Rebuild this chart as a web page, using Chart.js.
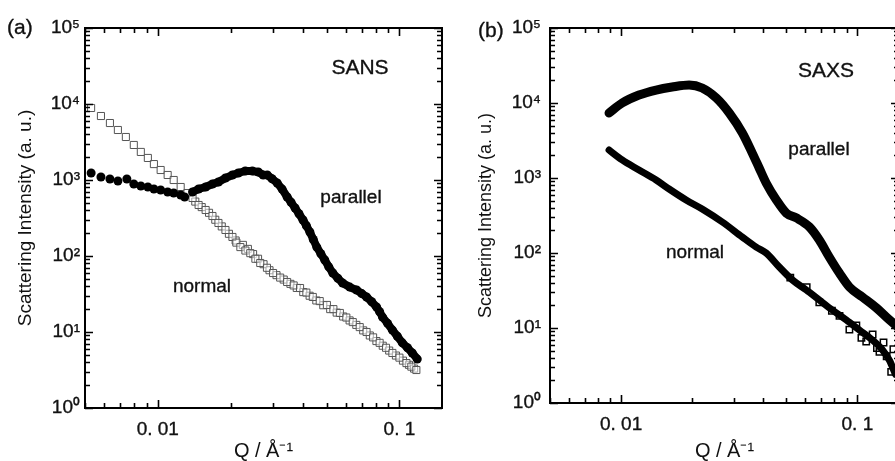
<!DOCTYPE html>
<html>
<head>
<meta charset="utf-8">
<script src="https://cdn.jsdelivr.net/npm/chart.js@4"></script>
<style>
  html, body { margin: 0; padding: 0; background: #fff; overflow: hidden; }
  #wrap { position: relative; width: 895px; height: 461px; overflow: hidden; }
  #chartA { position: absolute; left: 0; top: 0; }
  #chartB { position: absolute; left: 450px; top: 0; }
</style>
</head>
<body>
<div id="wrap">
  <canvas id="chartA" width="450" height="461"></canvas>
  <canvas id="chartB" width="460" height="461"></canvas>
</div>
<script>
// Panel (a) SANS - parallel (filled circles)
const sansParQ = [0.0053, 0.00582, 0.00634, 0.00684, 0.00745, 0.00796, 0.00851, 0.0091, 0.00964, 0.01028,
  0.01099, 0.01164, 0.01244, 0.01292, 0.01393, 0.01476, 0.01578, 0.01684, 0.01783, 0.01906,
  0.02037, 0.02155, 0.02303, 0.02462, 0.02606, 0.02731, 0.02838, 0.0297, 0.0312, 0.0327,
  0.0343, 0.0356, 0.037, 0.0384, 0.0399, 0.0412, 0.0426, 0.044, 0.0455, 0.0473,
  0.0491, 0.051, 0.053, 0.0556, 0.0582, 0.0623, 0.0665, 0.0698, 0.0731, 0.0768,
  0.0804, 0.0828, 0.0851, 0.0893, 0.0935, 0.098, 0.1028, 0.108, 0.113, 0.1185];
const sansParI = [1236, 1094, 1030, 970, 1030, 886, 834, 809, 762, 738,
  695, 674, 635, 598, 695, 762, 809, 886, 941, 1062,
  1164, 1236, 1314, 1314, 1274, 1164, 1164, 1040, 914, 760,
  598, 510, 428, 360, 298, 250, 207, 165, 131, 107,
  88.5, 72, 59.7, 51, 44.1, 39, 35.7, 32, 28.9, 25,
  21.3, 18.5, 15.7, 13, 10.6, 8.8, 7.2, 6.2, 5.3, 4.4];

// Panel (a) SANS - normal (open squares), two overlapping runs
const sansNorQ = [0.0053, 0.00582, 0.00634, 0.00684, 0.00738, 0.00796, 0.00851, 0.0091, 0.00964, 0.01028,
  0.01099, 0.01164, 0.01244, 0.01327, 0.01393, 0.01476, 0.01578, 0.01684, 0.01783, 0.01906,
  0.02037, 0.02115, 0.02197, 0.02305, 0.02415, 0.02535, 0.02655, 0.0283, 0.03, 0.0321,
  0.0343, 0.0365, 0.0388, 0.0412, 0.0438, 0.0468, 0.0501, 0.0533, 0.0567, 0.0603,
  0.0641, 0.0685, 0.0731, 0.0778, 0.0828, 0.088, 0.0935, 0.1, 0.1069, 0.112, 0.1175];
const sansNorI = [8860, 6950, 5620, 4550, 3680, 2890, 2340, 1950, 1620, 1354,
  1164, 1000, 809, 674, 580, 469, 403, 336, 272, 220,
  178, 150, 131, 118, 109, 92, 80.9, 70, 59.7, 52,
  45.5, 41, 37.9, 33, 28.9, 25.5, 22.7, 20, 17.8, 15.5,
  13.5, 11.6, 10, 8.5, 7.2, 6.2, 5.3, 4.6, 3.9, 3.5, 3.16];
const sansNor2Q = [0.0143, 0.0152, 0.0163, 0.0173, 0.0184, 0.0197, 0.021, 0.0225, 0.0236, 0.0248,
  0.026, 0.0274, 0.029, 0.031, 0.0332, 0.0354, 0.0376, 0.04, 0.0425, 0.0453,
  0.0484, 0.0517, 0.055, 0.0585, 0.0622, 0.0663, 0.0708, 0.0754, 0.0803, 0.0853,
  0.0907, 0.0967, 0.1034, 0.1095, 0.115];
const sansNor2I = [520, 440, 370, 300, 245, 196, 160, 140, 124, 106,
  92, 78, 65, 56, 49, 43, 38, 33.5, 30, 26,
  22.5, 20, 18, 16, 14.2, 12.4, 10.5, 9, 7.6, 6.6,
  5.7, 4.9, 4.2, 3.7, 3.3];

// Panel (b) SAXS - parallel
const saxsParQ = [0.00889, 0.0101, 0.0119, 0.01406, 0.01643, 0.0194, 0.02203, 0.0253, 0.0287, 0.0326,
  0.0359, 0.0384, 0.0411, 0.0454, 0.05, 0.0552, 0.0627, 0.069, 0.076, 0.0839,
  0.0925, 0.105, 0.1205, 0.1367, 0.15];
const saxsParI = [7360, 10000, 12790, 14900, 16330, 17380, 15850, 11660, 7360, 3980,
  2150, 1360, 858, 509, 341, 293, 222, 149, 88.5, 54,
  35.2, 25.9, 18.5, 12.8, 10];

// Panel (b) SAXS - normal
const saxsNorQ = [0.00889, 0.0101, 0.0119, 0.01406, 0.01596, 0.01884, 0.02203, 0.0268, 0.0326, 0.0373,
  0.0411, 0.0467, 0.0531, 0.0608, 0.069, 0.0783, 0.0898, 0.1019, 0.1158, 0.1277, 0.1367, 0.145];
const saxsNorI = [2360, 1740, 1279, 940, 713, 509, 386, 259, 163, 120,
  100, 65, 43.6, 32.1, 23.6, 17.4, 12.8, 9.4, 6.9, 5.1, 3.7, 2.4];
// scattered squares at the noisy high-Q end of the normal curve
const saxsNorNoiseQ = [0.052, 0.061, 0.069, 0.078, 0.084, 0.0925, 0.099, 0.104, 0.109, 0.116,
  0.121, 0.124, 0.129, 0.133, 0.139, 0.142];
const saxsNorNoiseI = [47, 35, 22, 17, 14.5, 9.5, 10.8, 7.4, 6.6, 8.2,
  5.4, 4.8, 6.4, 4.2, 2.6, 5.2];

const yTickValues = [1, 10, 100, 1000, 10000, 100000];
const xTickValues = [0.01, 0.1];
const xTickText = { 0.01: '0. 01', 0.1: '0. 1' };
const supDigits = ['⁰', '¹', '²', '³', '⁴', '⁵'];

const toPoints = (qs, is) => qs.map((q, i) => ({ x: q, y: is[i] }));

/**
 * Inward tick marks on all four sides, the box frame and the text labels
 */
const framePlugin = {
  id: 'frame',
  afterDraw(chart) {
    const { ctx, chartArea: a, scales } = chart;
    const xs = scales.x, ys = scales.y;
    ctx.save();
    ctx.strokeStyle = '#000';
    ctx.lineWidth = 2;
    ctx.strokeRect(a.left, a.top, a.right - a.left, a.bottom - a.top);
    ctx.lineWidth = 1.6;
    ctx.beginPath();
    for (let d = -3; d <= 0; d++) {
      for (let m = 1; m <= 9; m++) {
        const v = m * Math.pow(10, d);
        if (v < xs.min || v > xs.max) continue;
        const px = Math.round(xs.getPixelForValue(v)) + 0.5;
        const len = m === 1 ? 8 : 5;
        ctx.moveTo(px, a.bottom); ctx.lineTo(px, a.bottom - len);
        ctx.moveTo(px, a.top); ctx.lineTo(px, a.top + len);
      }
    }
    for (let d = 0; d <= 5; d++) {
      for (let m = 1; m <= 9; m++) {
        const v = m * Math.pow(10, d);
        if (v < ys.min || v > ys.max) continue;
        const py = Math.round(ys.getPixelForValue(v)) + 0.5;
        const len = m === 1 ? 8 : 5;
        ctx.moveTo(a.left, py); ctx.lineTo(a.left + len, py);
        ctx.moveTo(a.right, py); ctx.lineTo(a.right - len, py);
      }
    }
    ctx.stroke();

    // labels inside / near the panel
    ctx.fillStyle = '#111';
    ctx.strokeStyle = '#111';
    ctx.lineWidth = 0.35;
    ctx.textBaseline = 'middle';
    (chart.options.plugins.frame.labels || []).forEach(l => {
      ctx.font = l.font;
      ctx.textAlign = l.align || 'center';
      ctx.fillText(l.text, l.x, l.y);
      ctx.strokeText(l.text, l.x, l.y);
    });
    ctx.restore();
  },
};

const tickFont = { family: "'Liberation Sans', Arial, sans-serif", size: 19 };

function makeOptions(cfg) {
  return {
    responsive: false,
    animation: false,
    layout: { padding: { top: 28, right: cfg.padRight, left: 0, bottom: 0 } },
    plugins: {
      legend: { display: false },
      tooltip: { enabled: false },
      frame: { labels: cfg.labels },
    },
    scales: {
      x: {
        type: 'logarithmic',
        min: 0.005,
        max: 0.15,
        grid: { display: false },
        border: { display: false },
        afterBuildTicks: scale => { scale.ticks = xTickValues.map(v => ({ value: v })); },
        afterFit: scale => { scale.height = cfg.xHeight; },
        ticks: {
          color: '#111',
          padding: cfg.xTickPad,
          maxRotation: 0,
          textStrokeColor: '#111',
          textStrokeWidth: 0.35,
          font: tickFont,
          callback: v => xTickText[v] || '',
        },
        title: {
          display: true,
          text: 'Q / Å⁻¹',
          color: '#111',
          padding: 0,
          font: { family: "'Liberation Sans', Arial, sans-serif", size: 20, lineHeight: 1.0 },
        },
      },
      y: {
        type: 'logarithmic',
        min: 1,
        max: 100000,
        grid: { display: false },
        border: { display: false },
        afterBuildTicks: scale => { scale.ticks = yTickValues.map(v => ({ value: v })); },
        afterFit: scale => { scale.width = cfg.yWidth; },
        ticks: {
          color: '#111',
          padding: cfg.yTickPad,
          textStrokeColor: '#111',
          textStrokeWidth: 0.35,
          font: tickFont,
          callback: v => '10' + supDigits[Math.round(Math.log10(v))],
        },
        title: {
          display: true,
          text: 'Scattering Intensity (a. u.)',
          color: '#111',
          padding: { top: cfg.yTitlePad, bottom: 0 },
          font: { family: "'Liberation Sans', Arial, sans-serif", size: cfg.yTitleSize, lineHeight: 1.0 },
        },
      },
    },
  };
}

const labelFont = size => size + "px 'Liberation Sans', Arial, sans-serif";

// Panel (a)
new Chart(document.getElementById('chartA'), {
  type: 'scatter',
  data: {
    datasets: [
      {
        label: 'parallel',
        data: toPoints(sansParQ, sansParI),
        showLine: true,
        borderColor: '#000',
        borderWidth: 8,
        segment: { borderColor: c => (c.p0.parsed.x < 0.0138 ? 'rgba(0,0,0,0)' : '#000') },
        pointStyle: 'circle',
        pointRadius: 4.5,
        backgroundColor: '#000',
        pointBorderWidth: 0,
      },
      {
        label: 'normal',
        data: toPoints(sansNorQ, sansNorI),
        pointStyle: 'rect',
        pointRadius: 5,
        backgroundColor: 'rgba(255,255,255,0.5)',
        borderColor: '#555',
        borderWidth: 1,
      },
      {
        label: 'normal (second run)',
        data: toPoints(sansNor2Q, sansNor2I),
        pointStyle: 'rect',
        pointRadius: 5,
        backgroundColor: 'rgba(255,255,255,0.5)',
        borderColor: '#555',
        borderWidth: 1,
      },
    ],
  },
  options: makeOptions({
    padRight: 8, xHeight: 53, yWidth: 85, xTickPad: 2, yTickPad: -3,
    yTitlePad: 16, yTitleSize: 19,
    labels: [
      { text: '(a)', x: 7, y: 28, font: labelFont(21), align: 'left' },
      { text: 'SANS', x: 360, y: 68, font: labelFont(21) },
      { text: 'parallel', x: 351, y: 198, font: labelFont(19) },
      { text: 'normal', x: 202, y: 287, font: labelFont(19) },
    ],
  }),
  plugins: [framePlugin],
});

// Panel (b)
new Chart(document.getElementById('chartB'), {
  type: 'scatter',
  data: {
    datasets: [
      {
        label: 'parallel',
        data: toPoints(saxsParQ, saxsParI),
        showLine: true,
        borderColor: '#000',
        borderWidth: 9,
        borderCapStyle: 'round',
        borderJoinStyle: 'round',
        cubicInterpolationMode: 'monotone',
        pointRadius: 0,
      },
      {
        label: 'normal',
        data: toPoints(saxsNorQ, saxsNorI),
        showLine: true,
        borderColor: '#000',
        borderWidth: 7,
        borderCapStyle: 'round',
        borderJoinStyle: 'round',
        cubicInterpolationMode: 'monotone',
        pointRadius: 0,
      },
      {
        label: 'normal (noisy end)',
        data: toPoints(saxsNorNoiseQ, saxsNorNoiseI),
        pointStyle: 'rect',
        pointRadius: 4.5,
        backgroundColor: 'rgba(255,255,255,0)',
        borderColor: '#000',
        borderWidth: 1.5,
      },
    ],
  },
  options: makeOptions({
    padRight: 11, xHeight: 58, yWidth: 100, xTickPad: 2, yTickPad: 1,
    yTitlePad: 27, yTitleSize: 18,
    labels: [
      { text: '(b)', x: 28, y: 31, font: labelFont(21), align: 'left' },
      { text: 'SAXS', x: 376, y: 71, font: labelFont(21) },
      { text: 'parallel', x: 369, y: 150, font: labelFont(19) },
      { text: 'normal', x: 245, y: 253, font: labelFont(19) },
    ],
  }),
  plugins: [framePlugin],
});
</script>
</body>
</html>
